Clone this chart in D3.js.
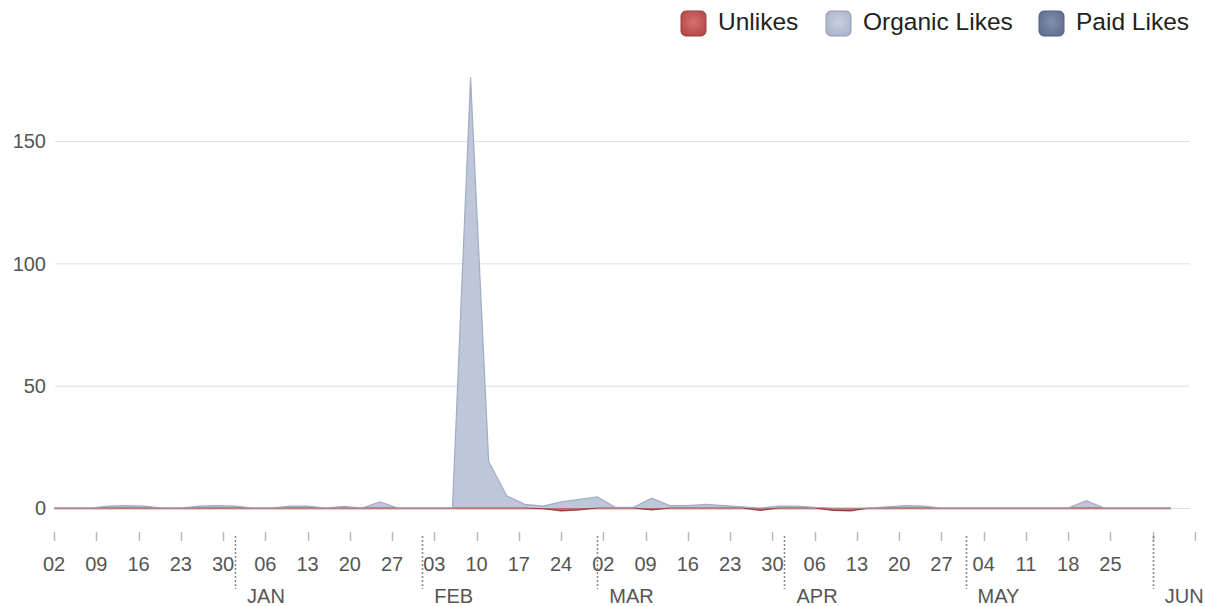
<!DOCTYPE html>
<html>
<head>
<meta charset="utf-8">
<script src="https://cdn.jsdelivr.net/npm/d3@7"></script>
<style>
  html, body { margin: 0; padding: 0; background: #fff; }
  svg { display: block; font-family: "Liberation Sans", Arial, sans-serif; }
</style>
</head>
<body>
<svg id="chart" width="1205" height="606"></svg>
<script>
// ---- data ----
const dates = [
  "2011-12-02","2011-12-05","2011-12-08","2011-12-11","2011-12-14","2011-12-17","2011-12-20","2011-12-23","2011-12-26","2011-12-29",
  "2012-01-01","2012-01-04","2012-01-07","2012-01-10","2012-01-13","2012-01-16","2012-01-19","2012-01-22","2012-01-25","2012-01-28","2012-01-31",
  "2012-02-03","2012-02-06","2012-02-09","2012-02-12","2012-02-15","2012-02-18","2012-02-21","2012-02-24","2012-02-27",
  "2012-03-01","2012-03-04","2012-03-07","2012-03-10","2012-03-13","2012-03-16","2012-03-19","2012-03-22","2012-03-25","2012-03-28","2012-03-31",
  "2012-04-03","2012-04-06","2012-04-09","2012-04-12","2012-04-15","2012-04-18","2012-04-21","2012-04-24","2012-04-27","2012-04-30",
  "2012-05-03","2012-05-06","2012-05-09","2012-05-12","2012-05-15","2012-05-18","2012-05-21","2012-05-24","2012-05-27","2012-05-30",
  "2012-06-02","2012-06-04"
];
const organicLikes = [
  0, 0, 0, 0.8, 1, 0.8, 0, 0, 0.8, 1,
  0.8, 0, 0, 0.8, 0.8, 0, 0.7, 0, 2.5, 0, 0,
  0, 0, 176, 19, 5, 1.5, 0.8, 2.5, 3.5,
  4.5, 0.3, 0.3, 4, 1, 1, 1.5, 1, 0.5, 0, 0.8,
  0.8, 0.3, 0, 0, 0, 0.5, 1, 0.8, 0, 0,
  0, 0, 0, 0, 0, 0, 3, 0, 0, 0,
  0, 0
];
const paidLikes = [
  0, 0, 0, 0, 0, 0, 0, 0, 0, 0,
  0, 0, 0, 0, 0, 0, 0, 0, 0, 0, 0,
  0, 0, 0, 0, 0, 0, 0, 0, 0,
  0, 0, 0, 0, 0, 0, 0, 0, 0, 0, 0,
  0, 0, 0, 0, 0, 0, 0, 0, 0, 0,
  0, 0, 0, 0, 0, 0, 0, 0, 0, 0,
  0, 0
];
const unlikes = [
  0, 0, 0, 0, 0, 0, 0, 0, 0, 0,
  0, 0, 0, 0, 0, 0, 0, 0, 0, 0, 0,
  0, 0, 0, 0, 0, 0, -0.3, -1.2, -0.8,
  0, 0, 0, -0.8, 0, 0, 0, 0, 0, -1, 0,
  0, 0, -1, -1.2, 0, 0, 0, 0, 0, 0,
  0, 0, 0, 0, 0, 0, 0, 0, 0, 0,
  0, 0
];
const seriesNames = ["Unlikes", "Organic Likes", "Paid Likes"];
const yTicks = [0, 50, 100, 150];
const monthLabels = ["JAN", "FEB", "MAR", "APR", "MAY", "JUN"];

// ---- setup ----
const svg = d3.select("#chart");
const parse = d3.utcParse("%Y-%m-%d");
const rows = dates.map((d, i) => ({
  date: parse(d),
  "Unlikes": unlikes[i],
  "Organic Likes": organicLikes[i],
  "Paid Likes": paidLikes[i]
}));

const x = d3.scaleUtc()
  .domain([parse("2011-12-02"), parse("2012-06-08")])
  .range([54, 1195]);
const y = d3.scaleLinear().domain([0, 150]).range([508, 141]);
const gridX0 = 55, gridX1 = 1190;

const fills = { "Unlikes": "#a83f3f", "Organic Likes": "#bec7da", "Paid Likes": "#6e7d9d" };
const strokes = { "Unlikes": "#9a3434", "Organic Likes": "#97a3bd", "Paid Likes": "#5c6a88" };

// defs: legend gradients
const defs = svg.append("defs");
const legendFills = { "Unlikes": ["#d77272", "#b44848"], "Organic Likes": ["#c9d0df", "#aab4ca"], "Paid Likes": ["#8390ae", "#606f90"] };
seriesNames.forEach((name, i) => {
  const gr = defs.append("radialGradient").attr("id", "lg" + i).attr("cx", "50%").attr("cy", "45%").attr("r", "60%");
  gr.append("stop").attr("offset", "0%").attr("stop-color", legendFills[name][0]);
  gr.append("stop").attr("offset", "100%").attr("stop-color", legendFills[name][1]);
});

// grid
svg.append("g").selectAll("line").data(yTicks).join("line")
  .attr("x1", gridX0).attr("x2", gridX1)
  .attr("y1", d => y(d) + 0.5).attr("y2", d => y(d) + 0.5)
  .attr("stroke", "#e0e0e0").attr("stroke-width", 1);

// y labels
svg.append("g").selectAll("text").data(yTicks).join("text")
  .attr("x", 46).attr("y", d => y(d)).attr("dy", "0.36em")
  .attr("text-anchor", "end").attr("font-size", 20).attr("fill", "#555")
  .text(d => d);

// stacked areas
const stack = d3.stack().keys(seriesNames).offset(d3.stackOffsetDiverging);
const layers = stack(rows);
const area = d3.area().x(d => x(d.data.date)).y0(d => y(d[0])).y1(d => y(d[1])).curve(d3.curveLinear);
const g = svg.append("g");
g.selectAll("path.area").data(layers).join("path")
  .attr("class", "area")
  .attr("d", area)
  .attr("fill", d => fills[d.key]);

// edge lines
const topLine = d3.line().x(d => x(d.data.date)).y(d => y(d[1])).curve(d3.curveLinear);
const botLine = d3.line().x(d => x(d.data.date)).y(d => y(d[0])).curve(d3.curveLinear);
// zero line (reddish)
g.append("path").attr("d", d3.line().x(d => x(d.date)).y(() => y(0) + 1)(rows))
  .attr("fill", "none").attr("stroke", "#c99a9a").attr("stroke-width", 1.2);
layers.forEach(L => {
  if (L.key === "Unlikes") {
    g.append("path").attr("d", botLine(L)).attr("fill", "none")
      .attr("stroke", strokes[L.key]).attr("stroke-width", 1.2).attr("stroke-opacity", 0.9);
  } else if (L.key === "Organic Likes") {
    g.append("path").attr("d", topLine(L)).attr("fill", "none")
      .attr("stroke", strokes[L.key]).attr("stroke-width", 1.2).attr("stroke-opacity", 0.85);
  }
});

// x axis ticks (weekly, Fridays)
const tickDates = d3.utcFriday.range(parse("2011-12-02"), d3.utcDay.offset(parse("2012-06-08"), 1));
const labelEnd = parse("2012-05-26");
const ax = svg.append("g");
ax.selectAll("line.tick").data(tickDates).join("line")
  .attr("class", "tick")
  .attr("x1", d => Math.round(x(d)) + 0.5).attr("x2", d => Math.round(x(d)) + 0.5)
  .attr("y1", 532).attr("y2", 541)
  .attr("stroke", "#b8b8b8").attr("stroke-width", 1.5);
ax.selectAll("text.day").data(tickDates.filter(d => d < labelEnd)).join("text")
  .attr("class", "day")
  .attr("x", d => x(d)).attr("y", 571)
  .attr("text-anchor", "middle").attr("font-size", 20).attr("fill", "#555")
  .text(d => d3.utcFormat("%d")(d));

// month boundaries
const months = d3.utcMonth.range(parse("2012-01-01"), parse("2012-06-02"));
ax.selectAll("line.month").data(months).join("line")
  .attr("class", "month")
  .attr("x1", d => Math.round(x(d)) + 0.5).attr("x2", d => Math.round(x(d)) + 0.5)
  .attr("y1", 536).attr("y2", 589)
  .attr("stroke", "#8a8a8a").attr("stroke-width", 1.6).attr("stroke-dasharray", "2,2");
ax.selectAll("text.month").data(months).join("text")
  .attr("class", "month")
  .attr("x", d => x(d) + 12).attr("y", 603)
  .attr("font-size", 20).attr("fill", "#555")
  .text((d, i) => monthLabels[i]);

// legend
const legendPos = [{sx: 681, tx: 718}, {sx: 826, tx: 863}, {sx: 1039, tx: 1076}];
const leg = svg.append("g");
seriesNames.forEach((name, i) => {
  leg.append("rect").attr("x", legendPos[i].sx).attr("y", 11).attr("width", 25).attr("height", 25)
    .attr("rx", 5).attr("fill", "url(#lg" + i + ")")
    .attr("stroke", d3.color(legendFills[name][1]).darker(0.4)).attr("stroke-width", 1);
  leg.append("text").attr("x", legendPos[i].tx).attr("y", 30)
    .attr("font-size", 24.5).attr("fill", "#222").text(name);
});
</script>
</body>
</html>
